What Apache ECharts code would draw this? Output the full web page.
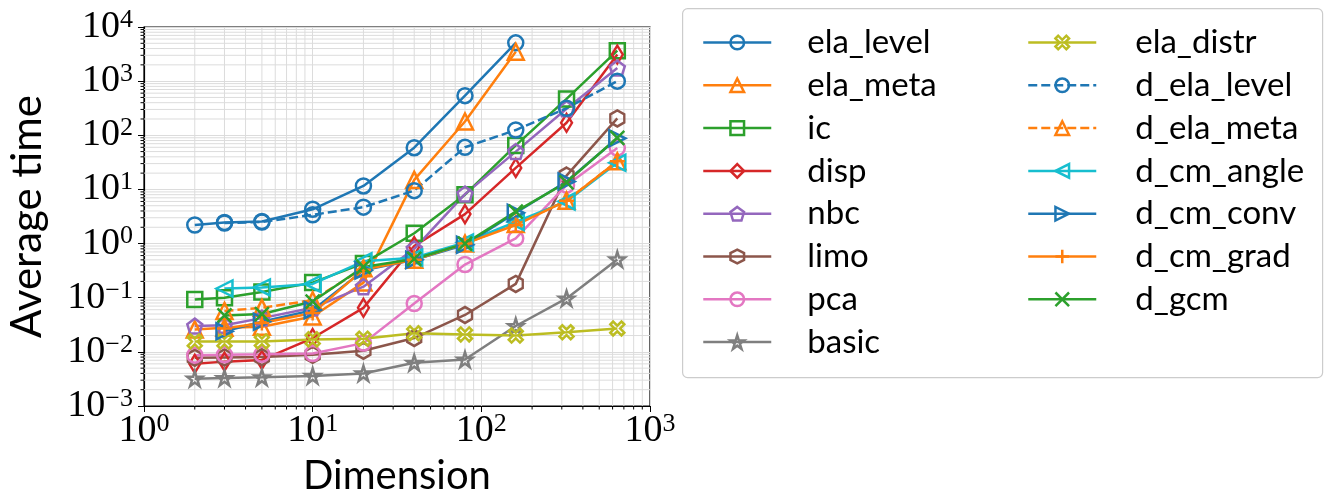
<!DOCTYPE html>
<html>
<head>
<meta charset="utf-8">
<script src="https://cdn.jsdelivr.net/npm/echarts@6.0.0/dist/echarts.min.js"></script>
<style>
  html, body { margin: 0; padding: 0; background: #fff; }
  #main { width: 1327px; height: 502px; }
</style>
</head>
<body>
<div id="main"></div>
<script>
// x values (problem dimension)
const dims = [2, 3, 5, 10, 20, 40, 80, 160, 320, 640];

// average time per feature set (null = no run)
const elaLevel  = [2.2, 2.45, 2.55, 4.3, 11.6, 59, 540, 5100, null, null];
const elaMeta   = [0.026, 0.028, 0.029, 0.045, 0.19, 15, 180, 3500, null, null];
const ic        = [0.093, 0.1, 0.127, 0.19, 0.43, 1.55, 8, 65, 470, 3650];
const disp      = [0.006, 0.0066, 0.0071, 0.018, 0.065, 0.9, 3.5, 25, 170, 3100];
const nbc       = [0.03, 0.031, 0.042, 0.065, 0.16, 0.8, 8.2, 50, 310, 1750];
const limo      = [0.0078, 0.0079, 0.008, 0.0088, 0.0105, 0.018, 0.048, 0.18, 18, 205];
const pca       = [0.0087, 0.0088, 0.009, 0.0093, 0.0145, 0.078, 0.41, 1.25, 12, 58];
const basic     = [0.0032, 0.0033, 0.0034, 0.0036, 0.004, 0.0063, 0.0072, 0.03, 0.097, 0.51];
const elaDistr  = [0.0155, 0.0155, 0.0156, 0.017, 0.0175, 0.022, 0.021, 0.02, 0.023, 0.027];
const dElaLevel = [null, 2.4, 2.5, 3.4, 4.7, 9.5, 60, 125, 316, 1000];
const dElaMeta  = [null, 0.057, 0.065, 0.09, 0.35, 0.5, 1.0, 2.3, 6.2, 33];
const dCmAngle  = [null, 0.148, 0.155, 0.18, 0.47, 0.55, 1.05, 2.5, 6.0, 31];
const dCmConv   = [null, 0.024, 0.036, 0.059, 0.32, 0.5, 0.95, 3.7, 14, 88];
const dCmGrad   = [null, 0.027, 0.034, 0.052, 0.33, 0.5, 1.0, 2.2, 6.2, 33];
const dGcm      = [null, 0.047, 0.05, 0.085, 0.37, 0.52, 1.0, 3.9, 13.5, 90];

// marker shapes (matplotlib-like)
const PENTAGON = 'path://M5,0L10,3.8L8.1,10L1.9,10L0,3.8Z';
const HEXAGON = 'path://M5,0L9.33,2.5L9.33,7.5L5,10L0.67,7.5L0.67,2.5Z';
const STAR = 'path://M10,0L12.2,6.9L19.5,6.9L13.6,11.2L15.9,18.1L10,13.8L4.1,18.1L6.4,11.2L0.5,6.9L7.8,6.9Z';
const FAT_X = 'path://M0,2L2,0L5,3L8,0L10,2L7,5L10,8L8,10L5,7L2,10L0,8L3,5Z';
const PLUS = 'path://M0,5L10,5M5,0L5,10';
const THIN_X = 'path://M0,0L10,10M10,0L0,10';

// name, values, colour, symbol, dashed, size, rotate
const lines = [
  ['ela_level',   elaLevel,  '#1f77b4', 'circle',   false, 15, 0],
  ['ela_meta',    elaMeta,   '#ff7f0e', 'triangle', false, 16, 0],
  ['ic',          ic,        '#2ca02c', 'rect',     false, 15, 0],
  ['disp',        disp,      '#d62728', 'diamond',  false, [11, 18], 0],
  ['nbc',         nbc,       '#9467bd', PENTAGON,   false, 15, 0],
  ['limo',        limo,      '#8c564b', HEXAGON,    false, [14, 16], 0],
  ['pca',         pca,       '#e377c2', 'circle',   false, 15, 0],
  ['basic',       basic,     '#7f7f7f', STAR,       false, 15, 0],
  ['ela_distr',   elaDistr,  '#bcbd22', FAT_X,      false, 14, 0],
  ['d_ela_level', dElaLevel, '#1f77b4', 'circle',   true,  15, 0],
  ['d_ela_meta',  dElaMeta,  '#ff7f0e', 'triangle', true,  16, 0],
  ['d_cm_angle',  dCmAngle,  '#17becf', 'triangle', false, 16, 90],
  ['d_cm_conv',   dCmConv,   '#1f77b4', 'triangle', false, 16, -90],
  ['d_cm_grad',   dCmGrad,   '#ff7f0e', PLUS,       false, 15, 0],
  ['d_gcm',       dGcm,      '#2ca02c', THIN_X,     false, 14, 0]
];

// minor grid positions 2..9 per decade
const minorX = [];
for (let e = 0; e < 3; e++) for (let k = 2; k <= 9; k++) minorX.push(k * Math.pow(10, e));
const minorY = [];
for (let e = -3; e < 4; e++) for (let k = 2; k <= 9; k++) minorY.push(k * Math.pow(10, e));

const GRID_COLOR = '#dcdcdc';
const serif = 'Liberation Serif';
const sans = 'Lato';

function powLabel(v) {
  const e = Math.round(Math.log10(v));
  return '{b|10}{s|' + (e < 0 ? '\u2212' + (-e) : e) + '}';
}
const tickRich = {
  b: { fontFamily: serif, fontSize: 38, color: '#000', verticalAlign: 'middle', lineHeight: 40 },
  s: { fontFamily: serif, fontSize: 26, color: '#000', verticalAlign: 'top', lineHeight: 28 }
};

const series = lines.map(([name, vals, color, symbol, dashed, size, rot]) => ({
  name: name,
  type: 'line',
  data: dims.map((d, i) => [d, vals[i]]),
  symbol: symbol,
  symbolSize: size,
  symbolRotate: rot,
  showSymbol: true,
  lineStyle: { color: color, width: 2.5, type: dashed ? [9, 4] : 'solid' },
  itemStyle: { color: 'rgba(0,0,0,0)', borderColor: color, borderWidth: 2.5 },
  emphasis: { disabled: true },
  z: 3
}));

// minor grid lines + minor ticks
series.push({
  type: 'custom',
  silent: true,
  z: 1,
  clip: false,
  data: minorX.map(v => [v, 1]),
  renderItem: function (params, api) {
    const p = api.coord([api.value(0), 1]);
    const cs = params.coordSys;
    return {
      type: 'group',
      children: [
        { type: 'line', shape: { x1: p[0], y1: cs.y, x2: p[0], y2: cs.y + cs.height }, style: { stroke: GRID_COLOR, lineWidth: 1 } },
        { type: 'line', shape: { x1: p[0], y1: cs.y + cs.height, x2: p[0], y2: cs.y + cs.height + 3.5 }, style: { stroke: '#000', lineWidth: 1 } }
      ]
    };
  }
});
series.push({
  type: 'custom',
  silent: true,
  z: 1,
  clip: false,
  data: minorY.map(v => [1, v]),
  renderItem: function (params, api) {
    const p = api.coord([1, api.value(1)]);
    const cs = params.coordSys;
    return {
      type: 'group',
      children: [
        { type: 'line', shape: { x1: cs.x, y1: p[1], x2: cs.x + cs.width, y2: p[1] }, style: { stroke: GRID_COLOR, lineWidth: 1 } },
        { type: 'line', shape: { x1: cs.x - 3.5, y1: p[1], x2: cs.x, y2: p[1] }, style: { stroke: '#000', lineWidth: 1 } }
      ]
    };
  }
});

const names = lines.map(l => l[0]);
function legendCol(left, pad, data) {
  return {
    orient: 'vertical',
    left: left,
    top: 21,
    itemWidth: 68,
    itemHeight: 17,
    itemGap: 9.8,
    selectedMode: false,
    data: data,
    lineStyle: { width: 2.5 },
    itemStyle: { borderWidth: 2.5 },
    textStyle: { fontFamily: sans, fontSize: 33, color: '#000', lineHeight: 32, padding: [0, 0, 0, pad] }
  };
}

const chart = echarts.init(document.getElementById('main'));
chart.setOption({
  animation: false,
  backgroundColor: '#fff',
  grid: { left: 144, right: 677, top: 27, bottom: 96, show: true, borderColor: '#000', borderWidth: 1.2 },
  graphic: [{
    type: 'rect', left: 682, top: 8, z: 0,
    shape: { width: 640, height: 369, r: 5 },
    style: { fill: '#fff', stroke: '#cccccc', lineWidth: 1.2 }
  }],
  legend: [
    legendCol(697, 31, names.slice(0, 8)),
    legendCol(1022, 34, names.slice(8))
  ],
  xAxis: {
    type: 'log', logBase: 10, min: 1, max: 1000, interval: 1,
    name: 'Dimension', nameLocation: 'middle', nameGap: 50,
    nameTextStyle: { fontFamily: sans, fontSize: 40, color: '#000' },
    axisLine: { lineStyle: { color: '#000', width: 1.2 } },
    axisTick: { length: 6, lineStyle: { color: '#000' } },
    splitLine: { show: true, lineStyle: { color: GRID_COLOR, width: 1 } },
    axisLabel: { margin: 5, formatter: powLabel, rich: tickRich }
  },
  yAxis: {
    type: 'log', logBase: 10, min: 0.001, max: 10000, interval: 1,
    name: 'Average time', nameLocation: 'middle', nameGap: 96, nameRotate: 90,
    nameTextStyle: { fontFamily: sans, fontSize: 42, color: '#000' },
    axisLine: { lineStyle: { color: '#000', width: 1.2 } },
    axisTick: { length: 6, lineStyle: { color: '#000' } },
    splitLine: { show: true, lineStyle: { color: GRID_COLOR, width: 1 } },
    axisLabel: { margin: 11, formatter: powLabel, rich: tickRich }
  },
  series: series
});
</script>
</body>
</html>
